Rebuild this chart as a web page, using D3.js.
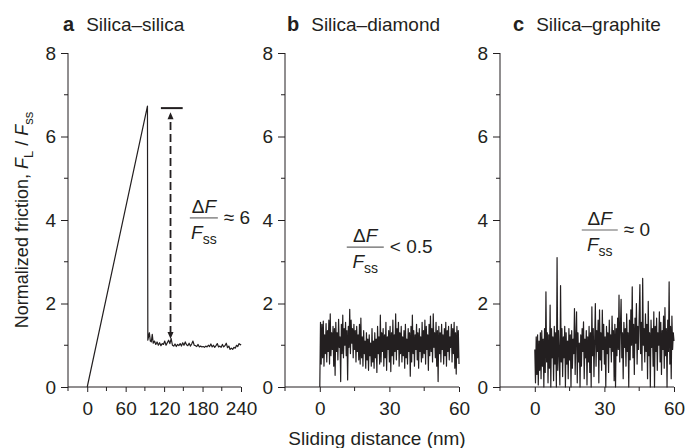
<!DOCTYPE html>
<html>
<head>
<meta charset="utf-8">
<script src="https://cdn.jsdelivr.net/npm/d3@7"></script>
<style>
body { margin: 0; background: #fff; }
text { font-family: "Liberation Sans", Arial, sans-serif; fill: #231f20; }
</style>
</head>
<body>
<div id="chart"></div>
<script>
"use strict";

// panel a, silica-silica : sliding distance (nm) / normalized friction
var aDistance = [0, 94, 94.6, 97, 98.5, 100, 101.5, 103,
        105, 107, 109, 111, 113, 115, 117, 119, 121, 123,
        125, 127, 129, 131, 133, 135, 137, 139, 141, 143,
        145, 147, 149, 151, 153, 155, 157, 159, 161, 163,
        165, 167, 169, 171, 173, 175, 177, 179, 181, 183,
        185, 187, 189, 191, 193, 195, 197, 199, 201, 203,
        205, 207, 209, 211, 213, 215, 217, 219, 221, 223,
        225, 227, 229, 231, 233, 235, 237, 239, 240];
var aFriction = [0, 6.73, 1.12, 1.30, 1.10, 1.08, 1.26, 1.05,
        1.10, 1.02, 1.08, 1.00, 1.06, 0.99, 1.04, 1.02, 1.10, 1.00,
        1.06, 1.12, 1.04, 1.16, 1.00, 0.98, 1.03, 0.97, 1.02, 0.99,
        1.04, 0.98, 1.06, 1.00, 1.08, 1.01, 0.99, 1.05, 0.98, 1.03,
        1.10, 1.00, 0.99, 0.97, 1.02, 0.96, 0.98, 0.96, 0.97, 0.95,
        0.98, 0.96, 1.00, 0.97, 1.03, 0.96, 1.00, 0.95, 0.99, 1.04,
        0.96, 0.98, 0.95, 1.02, 0.96, 0.99, 1.05, 0.94, 0.98, 0.90,
        0.93, 0.90, 0.95, 0.93, 1.00, 0.97, 1.04, 1.01, 1.03];

// panel b, silica-diamond : one sample every 0.3 nm from 0 to 60 nm
var bStep = 0.3;
var bFriction = [
        0, 1.55, 0.55, 1.50, 0.70, 1.58, 0.50, 1.25, 0.80, 1.52,
        0.60, 1.35, 0.85, 1.60, 0.55, 1.75, 0.75, 1.30, 0.90, 1.45,
        0.50, 1.40, 0.28, 1.55, 0.85, 1.30, 0.65, 1.62, 0.95, 1.20,
        0.13, 1.50, 0.80, 1.72, 0.70, 1.40, 1.00, 1.55, 0.75, 1.35,
        0.17, 1.45, 0.95, 1.86, 0.80, 1.60, 1.05, 1.40, 0.70, 1.50,
        0.90, 1.35, 0.60, 1.45, 0.85, 1.25, 0.65, 1.50, 0.55, 1.65,
        0.70, 1.20, 0.50, 1.35, 0.80, 1.10, 0.45, 1.30, 0.65, 1.15,
        0.40, 1.25, 0.75, 1.05, 0.50, 1.40, 0.60, 1.10, 0.45, 1.30,
        0.70, 1.15, 0.35, 1.45, 0.80, 1.20, 0.55, 1.72, 0.60, 1.30,
        0.85, 1.40, 0.50, 1.25, 0.70, 1.55, 0.40, 1.20, 0.90, 1.35,
        0.60, 1.45, 0.37, 1.30, 0.75, 1.60, 0.55, 1.25, 0.85, 1.75,
        0.65, 1.40, 0.90, 1.55, 0.50, 1.30, 0.80, 1.45, 0.60, 1.20,
        0.75, 1.35, 0.45, 1.50, 0.70, 1.15, 0.55, 1.40, 0.85, 1.30,
        0.26, 1.45, 0.60, 1.72, 0.80, 1.35, 0.50, 1.25, 0.90, 1.50,
        0.65, 1.30, 0.45, 1.40, 0.85, 1.20, 0.60, 1.55, 0.70, 1.35,
        0.80, 1.60, 0.55, 1.45, 0.90, 1.25, 0.40, 1.50, 0.75, 1.70,
        0.85, 1.40, 0.60, 1.75, 0.95, 1.30, 0.70, 1.55, 0.50, 1.35,
        0.13, 1.45, 0.80, 1.30, 0.60, 1.50, 0.90, 1.25, 0.55, 1.40,
        0.75, 1.55, 0.50, 1.35, 0.85, 1.45, 0.65, 1.20, 0.95, 1.50,
        0.60, 1.40, 0.80, 1.55, 0.45, 1.30, 0.31, 1.45, 0.70, 1.35, 0.55];

// panel c, silica-graphite : one sample every 0.3 nm from 0 to 60 nm
var cStep = 0.3;
var cFriction = [
        0.90, 0.10, 1.20, 0.30, 1.25, 0.05, 1.10, 0.40, 1.30, 0.20,
        1.35, 0.50, 1.15, 0.00, 1.40, 0.35, 2.28, 0.60, 1.30, 0.10,
        1.25, 0.45, 1.96, 0.00, 1.40, 0.70, 1.20, 0.15, 1.45, 0.55,
        1.30, 0.00, 3.10, 0.40, 1.35, 0.80, 0.05, 2.43, 0.60, 1.40,
        0.25, 1.20, 0.70, 1.45, 0.00, 1.30, 0.55, 1.10, 0.20, 1.40,
        0.65, 1.25, 0.00, 1.35, 0.45, 1.15, 0.80, 1.88, 0.30, 1.20,
        1.80, 0.10, 1.30, 0.60, 1.05, 0.00, 1.25, 0.50, 1.40, 0.85,
        1.56, 0.20, 1.15, 0.70, 1.35, 0.05, 1.20, 0.60, 1.45, 0.35,
        1.30, 0.00, 1.92, 0.75, 1.40, 0.25, 1.10, 2.00, 0.50, 1.35,
        0.85, 1.60, 0.10, 1.85, 0.65, 1.30, 0.40, 1.84, 0.90, 1.50,
        0.55, 1.20, 0.00, 1.45, 0.80, 1.30, 0.35, 1.60, 0.95, 1.25,
        0.60, 1.70, 0.85, 1.35, 0.15, 1.50, 0.00, 1.40, 0.75, 1.65,
        0.90, 2.20, 0.60, 1.45, 2.10, 0.70, 1.30, 0.20, 1.55, 0.95,
        1.40, 0.50, 1.75, 0.85, 1.30, 0.00, 1.60, 0.65, 1.85, 1.00,
        2.40, 0.70, 1.50, 0.30, 1.65, 1.05, 2.00, 0.55, 1.45, 0.90,
        1.70, 2.45, 0.80, 1.55, 0.40, 2.60, 1.00, 1.40, 0.60, 1.75,
        0.85, 1.50, 0.20, 2.05, 0.75, 1.30, 0.00, 1.60, 0.95, 1.40,
        0.50, 1.80, 0.00, 1.45, 0.85, 1.65, 0.40, 1.30, 1.00, 1.80,
        0.60, 1.55, 0.30, 1.35, 0.90, 1.70, 0.45, 1.90, 0.75, 1.40,
        0.00, 1.60, 0.85, 2.52, 0.55, 1.45, 0.20, 1.70, 0.90, 1.30, 1.10];

// axis ticks
var yTicks = [0, 2, 4, 6, 8];
var yMinorTicks = [1, 3, 5, 7];
var aTicks = [0, 60, 120, 180, 240];
var aMinorTicks = [-30, 30, 90, 150, 210];
var bcTicks = [0, 30, 60];
var bcMinorTicks = [-15, 15, 45];

// annotation of panel a (nm, normalized friction)
var aPeakBar = [115, 149, 6.68];
var aArrow = [130, 1.15, 6.58];

var ink = "#231f20";

var svg = d3.select("#chart")
        .append("svg")
        .attr("width", 686)
        .attr("height", 448);

var y = d3.scaleLinear()
        .domain([0, 8])
        .range([387, 53]);

function drawPanel(xDomain, xRange, ticks, minorTicks, letter, title, titleX) {
        //axes, ticks and title of one panel, returns its x scale
        var x = d3.scaleLinear()
                .domain(xDomain)
                .range(xRange);
        var g = svg.append("g");

        // Y axis
        var yAxis = g.append("g")
                .attr("transform", "translate(" + xRange[0] + ",0)")
                .call(d3.axisLeft(y).tickValues(yTicks).tickSize(7).tickPadding(5));
        yAxis.append("g").selectAll("line")
                .data(yMinorTicks)
                .enter()
                .append("line")
                .attr("x1", -4).attr("x2", 0)
                .attr("y1", function (d) { return y(d); })
                .attr("y2", function (d) { return y(d); });

        // X axis
        var xAxis = g.append("g")
                .attr("transform", "translate(0," + y(0) + ")")
                .call(d3.axisBottom(x).tickValues(ticks).tickSize(5).tickPadding(10));
        xAxis.append("g").selectAll("line")
                .data(minorTicks)
                .enter()
                .append("line")
                .attr("x1", function (d) { return x(d); })
                .attr("x2", function (d) { return x(d); })
                .attr("y1", 0).attr("y2", 4);

        g.selectAll("line").attr("stroke", ink).attr("stroke-width", 1);
        yAxis.select(".domain").remove();
        xAxis.select(".domain").remove();
        g.append("line")
                .attr("x1", xRange[0]).attr("x2", xRange[0])
                .attr("y1", y(8)).attr("y2", y(0))
                .attr("stroke", ink);
        g.append("line")
                .attr("x1", xRange[0]).attr("x2", xRange[1])
                .attr("y1", y(0)).attr("y2", y(0))
                .attr("stroke", ink);
        g.selectAll(".tick text")
                .style("font-family", '"Liberation Sans", Arial, sans-serif')
                .style("font-size", "19px")
                .attr("fill", ink);

        // title
        var t = g.append("text")
                .attr("x", titleX)
                .attr("y", 31)
                .style("font-size", "19px");
        t.append("tspan").attr("font-weight", "bold").style("font-size", "20px").text(letter);
        t.append("tspan").attr("dx", 12).text(title);

        return x;
}

function drawTrace(xs, ys, x) {
        var pts = [];
        for (var i = 0; i < Math.min(xs.length, ys.length); i++) {
                pts.push([xs[i], ys[i]]);
        }
        svg.append("path")
                .datum(pts)
                .attr("fill", "none")
                .attr("stroke", ink)
                .attr("stroke-width", 1.2)
                .attr("stroke-linejoin", "round")
                .attr("d", d3.line()
                        .x(function (d) { return x(d[0]); })
                        .y(function (d) { return y(d[1]); }));
}

function drawRatio(cx, barY, barW, rhs) {
        //the DeltaF / Fss fraction and what it equals
        var g = svg.append("g").style("font-size", "19px");
        g.append("line")
                .attr("x1", cx - barW / 2).attr("x2", cx + barW / 2)
                .attr("y1", barY).attr("y2", barY)
                .attr("stroke", "#666").attr("stroke-width", 1.2);
        var top = g.append("text")
                .attr("x", cx).attr("y", barY - 5)
                .attr("text-anchor", "middle");
        top.append("tspan").text("\u0394");
        top.append("tspan").attr("font-style", "italic").text("F");
        var bottom = g.append("text")
                .attr("x", cx).attr("y", barY + 21)
                .attr("text-anchor", "middle");
        bottom.append("tspan").attr("font-style", "italic").text("F");
        bottom.append("tspan").attr("dy", 5).style("font-size", "14px").text("ss");
        g.append("text")
                .attr("x", cx + barW / 2 + 6).attr("y", barY + 6)
                .text(rhs);
}

var xa = drawPanel([-30, 240], [68, 241], aTicks, aMinorTicks, "a", "Silica\u2013silica", 63);
var xb = drawPanel([-15, 60], [285, 459], bcTicks, bcMinorTicks, "b", "Silica\u2013diamond", 287);
var xc = drawPanel([-15, 60], [500, 674], bcTicks, bcMinorTicks, "c", "Silica\u2013graphite", 513);

drawTrace(aDistance, aFriction, xa);
drawTrace(bFriction.map(function (d, i) { return i * bStep; }), bFriction, xb);
drawTrace(cFriction.map(function (d, i) { return i * cStep; }), cFriction, xc);

// peak marker and dashed double arrow in panel a
svg.append("line")
        .attr("x1", xa(aPeakBar[0])).attr("x2", xa(aPeakBar[1]))
        .attr("y1", y(aPeakBar[2])).attr("y2", y(aPeakBar[2]))
        .attr("stroke", ink).attr("stroke-width", 2);
var ax = xa(aArrow[0]);
svg.append("line")
        .attr("x1", ax).attr("x2", ax)
        .attr("y1", y(aArrow[1]) - 5).attr("y2", y(aArrow[2]) + 5)
        .attr("stroke", ink).attr("stroke-width", 1.8)
        .attr("stroke-dasharray", "8,4");
svg.append("path")
        .attr("d", "M" + ax + "," + y(aArrow[2]) + "l-3,7h6z")
        .attr("fill", ink);
svg.append("path")
        .attr("d", "M" + ax + "," + y(aArrow[1]) + "l-3,-7h6z")
        .attr("fill", ink);

drawRatio(xa(182), y(4.05), 28, "\u2248 6");
drawRatio(xb(19.6), y(3.35), 37, "< 0.5");
drawRatio(xc(28), y(3.76), 36, "\u2248 0");

// axis labels
var yLabel = svg.append("text")
        .attr("transform", "translate(28,220)rotate(-90)")
        .attr("text-anchor", "middle")
        .style("font-size", "18px");
yLabel.append("tspan").text("Normalized friction, ");
yLabel.append("tspan").attr("font-style", "italic").text("F");
yLabel.append("tspan").attr("dy", 5).style("font-size", "13px").text("L");
yLabel.append("tspan").attr("dy", -5).text(" / ");
yLabel.append("tspan").attr("font-style", "italic").text("F");
yLabel.append("tspan").attr("dy", 5).style("font-size", "13px").text("ss");

svg.append("text")
        .attr("x", 377)
        .attr("y", 445)
        .attr("text-anchor", "middle")
        .style("font-size", "19px")
        .text("Sliding distance (nm)");
</script>
</body>
</html>
